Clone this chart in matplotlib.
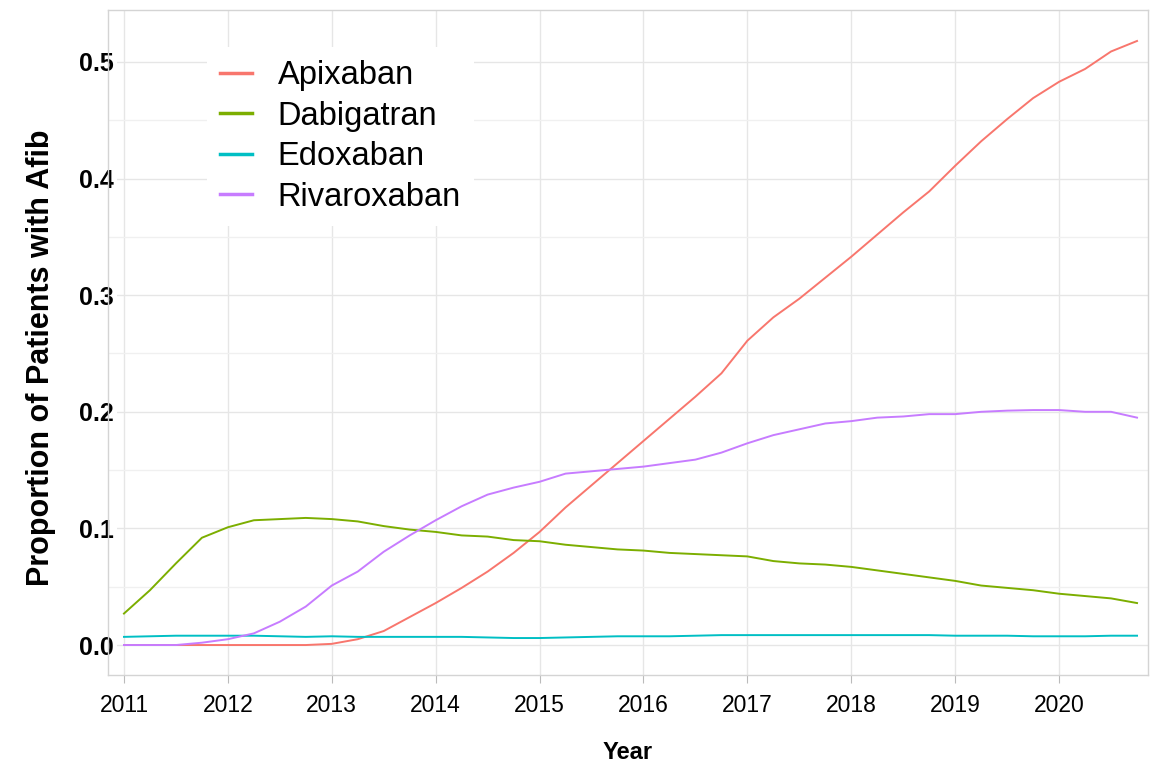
import numpy as np
import matplotlib.pyplot as plt

plt.rcParams['font.family'] = ['Liberation Sans', 'DejaVu Sans']

# quarterly time points, 2011 Q1 .. 2020 Q4
years = [2011 + 0.25 * i for i in range(40)]

apixaban = [0.0, 0.0, 0.0, 0.0, 0.0, 0.0, 0.0, 0.0,
            0.001, 0.005, 0.012, 0.024, 0.036, 0.049, 0.063, 0.079,
            0.097, 0.118, 0.137, 0.156, 0.175, 0.194, 0.213, 0.233,
            0.261, 0.281, 0.297, 0.315, 0.333, 0.352, 0.371, 0.389,
            0.411, 0.432, 0.451, 0.469, 0.483, 0.494, 0.509, 0.518]
dabigatran = [0.027, 0.047, 0.070, 0.092, 0.101, 0.107, 0.108, 0.109,
              0.108, 0.106, 0.102, 0.099, 0.097, 0.094, 0.093, 0.090,
              0.089, 0.086, 0.084, 0.082, 0.081, 0.079, 0.078, 0.077,
              0.076, 0.072, 0.070, 0.069, 0.067, 0.064, 0.061, 0.058,
              0.055, 0.051, 0.049, 0.047, 0.044, 0.042, 0.040, 0.036]
edoxaban = [0.007, 0.0075, 0.008, 0.008, 0.008, 0.008, 0.0075, 0.007,
            0.0075, 0.007, 0.007, 0.007, 0.007, 0.007, 0.0065, 0.006,
            0.006, 0.0065, 0.007, 0.0075, 0.0075, 0.0075, 0.008, 0.0085,
            0.0085, 0.0085, 0.0085, 0.0085, 0.0085, 0.0085, 0.0085, 0.0085,
            0.008, 0.008, 0.008, 0.0075, 0.0075, 0.0075, 0.008, 0.008]
rivaroxaban = [0.0, 0.0, 0.0, 0.002, 0.005, 0.010, 0.020, 0.033,
               0.051, 0.063, 0.080, 0.094, 0.107, 0.119, 0.129, 0.135,
               0.140, 0.147, 0.149, 0.151, 0.153, 0.156, 0.159, 0.165,
               0.173, 0.180, 0.185, 0.190, 0.192, 0.195, 0.196, 0.198,
               0.198, 0.200, 0.201, 0.2015, 0.2015, 0.200, 0.200, 0.195]

drugs = ['Apixaban', 'Dabigatran', 'Edoxaban', 'Rivaroxaban']
colors = ['#F8766D', '#7CAE00', '#00BFC4', '#C77CFF']

fig = plt.figure(figsize=(11.66, 7.66), dpi=100)
ax = fig.add_axes([0.0926, 0.1188, 0.892, 0.8682])

for name, vals, c in zip(drugs, [apixaban, dabigatran, edoxaban, rivaroxaban], colors):
    ax.plot(years, vals, color=c, lw=1.4, label=name)

ax.set_xlim(2010.846, 2020.856)
ax.set_ylim(-0.0257, 0.5446)
ax.set_xticks(range(2011, 2021))
ax.set_yticks([0.0, 0.1, 0.2, 0.3, 0.4, 0.5])
ax.set_yticks(np.arange(0.05, 0.55, 0.1), minor=True)
ax.yaxis.set_major_formatter(plt.FormatStrFormatter('%.1f'))

ax.grid(True, which='major', color='#e6e6e6', lw=1.0)
ax.grid(True, which='minor', axis='y', color='#f0f0f0', lw=1.0)
ax.set_axisbelow(True)
for s in ax.spines.values():
    s.set_color('#d4d4d4')
    s.set_linewidth(1.0)

ax.tick_params(axis='x', which='major', length=6, color='#bbbbbb', labelsize=16.5, pad=8)
ax.tick_params(axis='y', which='major', length=0, labelsize=18, pad=-4)
ax.tick_params(axis='y', which='minor', length=0)
for lab in ax.get_yticklabels():
    lab.set_fontweight('bold')
    lab.set_zorder(5)
    lab.set_bbox(dict(facecolor='white', edgecolor='none', pad=2.5))

ax.set_xlabel('Year', fontsize=17, fontweight='bold', labelpad=17)
ax.set_ylabel('Proportion of Patients with Afib', fontsize=22, fontweight='bold')
ax.yaxis.set_label_coords(-0.050, 0.477)

leg = ax.legend(loc='upper left', bbox_to_anchor=(0.095, 0.944), fontsize=23.5,
                frameon=True, facecolor='white', edgecolor='none', framealpha=1,
                handlelength=1.0, handletextpad=0.77, labelspacing=0.29,
                borderpad=0.4, borderaxespad=0, fancybox=False)
for line in leg.get_lines():
    line.set_linewidth(2.5)

fig.savefig('out.png', dpi=100)
